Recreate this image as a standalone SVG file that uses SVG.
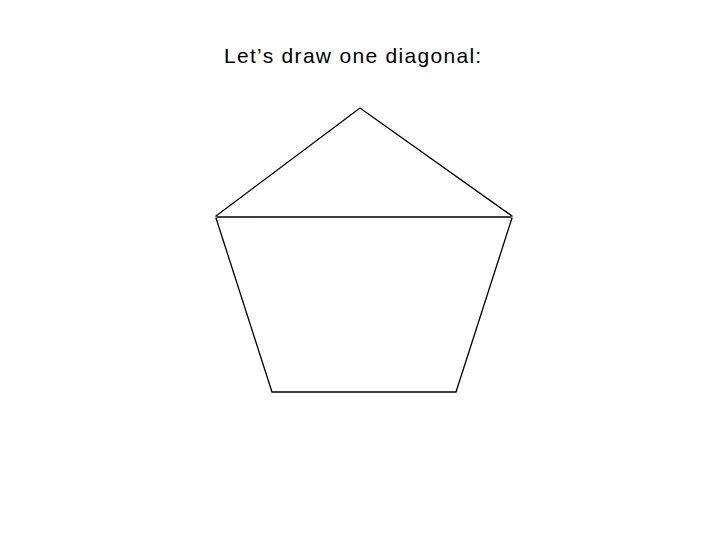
<svg xmlns="http://www.w3.org/2000/svg" width="720" height="540" viewBox="0 0 720 540">
<style>
.t{font-family:"Liberation Sans",Arial,sans-serif;font-size:21px;letter-spacing:1.3px;fill:#000}
.e{stroke:#000;stroke-width:1.3;fill:none;stroke-linecap:round}
</style>
<rect width="720" height="540" fill="#fff"/>
<text class="t" x="224" y="63">Let’s draw one diagonal:</text>
<g id="pentagon">
<path class="e" d="M216,216 L360,108 L512,216 M512,218 L456,392 L272,392 L216,218"/>
</g>
<g id="connectors">
<line class="e" x1="217" y1="217" x2="511" y2="217"/>
</g>
</svg>
